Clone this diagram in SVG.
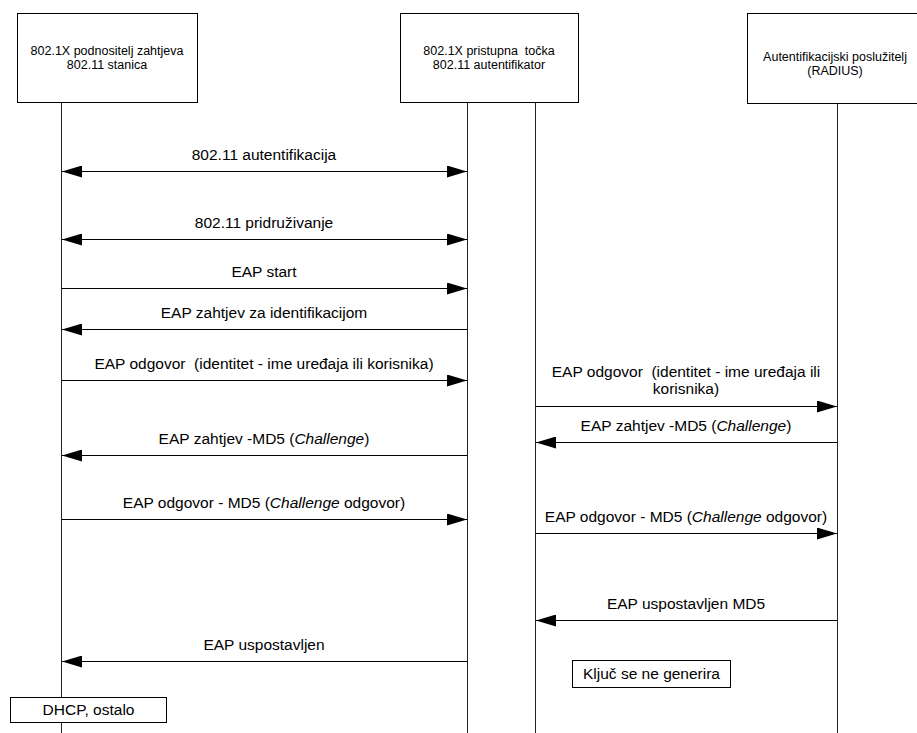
<svg xmlns="http://www.w3.org/2000/svg" width="917" height="733" viewBox="0 0 917 733">
<style>
text{font-family:"Liberation Sans",Arial,sans-serif;fill:#000}
.hdr{font-size:12.5px;text-anchor:middle}
.lbl{font-size:15.5px;text-anchor:middle}
.box{fill:#fff;stroke:#000;stroke-width:1}
.life{stroke:#222;stroke-width:1;fill:none}
.msg{stroke:#000;stroke-width:1;fill:none}
.it{font-style:italic}
</style>
<defs>
<marker id="ah" markerWidth="20" markerHeight="12" refX="20" refY="6" orient="auto-start-reverse" markerUnits="userSpaceOnUse">
<path d="M0,0 L20,6 L0,12 Z" fill="#000"/>
</marker>
</defs>
<rect width="917" height="733" fill="#fff"/>
<g id="lifelines">
<line class="life" x1="61.5" y1="103" x2="61.5" y2="733"/>
<line class="life" x1="467.5" y1="103" x2="467.5" y2="733"/>
<line class="life" x1="535.5" y1="103" x2="535.5" y2="733"/>
<line class="life" x1="837.5" y1="104" x2="837.5" y2="733"/>
</g>
<g id="node-supplicant">
<rect class="box" x="17.5" y="13.5" width="180" height="89"/>
<text class="hdr" x="107" y="55">802.1X podnositelj zahtjeva</text>
<text class="hdr" x="107" y="69">802.11 stanica</text>
</g>
<g id="node-ap">
<rect class="box" x="400.5" y="13.5" width="178" height="89"/>
<text class="hdr" x="489" y="55" xml:space="preserve">802.1X pristupna  točka</text>
<text class="hdr" x="489" y="69">802.11 autentifikator</text>
</g>
<g id="node-radius">
<rect class="box" x="747.5" y="13.5" width="180" height="90"/>
<text class="hdr" x="835" y="61">Autentifikacijski poslužitelj</text>
<text class="hdr" x="835" y="75">(RADIUS)</text>
</g>
<g id="connectors">
<line class="msg" x1="62" y1="171.5" x2="467" y2="171.5" marker-start="url(#ah)" marker-end="url(#ah)"/>
<line class="msg" x1="62" y1="239.5" x2="467" y2="239.5" marker-start="url(#ah)" marker-end="url(#ah)"/>
<line class="msg" x1="62" y1="288.5" x2="467" y2="288.5" marker-end="url(#ah)"/>
<line class="msg" x1="467" y1="329.5" x2="62" y2="329.5" marker-end="url(#ah)"/>
<line class="msg" x1="62" y1="380.5" x2="467" y2="380.5" marker-end="url(#ah)"/>
<line class="msg" x1="536" y1="406.5" x2="837" y2="406.5" marker-end="url(#ah)"/>
<line class="msg" x1="837" y1="442.5" x2="536" y2="442.5" marker-end="url(#ah)"/>
<line class="msg" x1="467" y1="455.5" x2="62" y2="455.5" marker-end="url(#ah)"/>
<line class="msg" x1="62" y1="519.5" x2="467" y2="519.5" marker-end="url(#ah)"/>
<line class="msg" x1="536" y1="533.5" x2="837" y2="533.5" marker-end="url(#ah)"/>
<line class="msg" x1="837" y1="620.5" x2="536" y2="620.5" marker-end="url(#ah)"/>
<line class="msg" x1="467" y1="661.5" x2="62" y2="661.5" marker-end="url(#ah)"/>
</g>
<g id="labels">
<text class="lbl" x="264" y="160">802.11 autentifikacija</text>
<text class="lbl" x="264" y="228">802.11 pridruživanje</text>
<text class="lbl" x="264" y="277">EAP start</text>
<text class="lbl" x="264" y="318">EAP zahtjev za identifikacijom</text>
<text class="lbl" x="264" y="369" xml:space="preserve">EAP odgovor  (identitet - ime uređaja ili korisnika)</text>
<text class="lbl" x="686" y="377" xml:space="preserve">EAP odgovor  (identitet - ime uređaja ili</text>
<text class="lbl" x="686" y="394">korisnika)</text>
<text class="lbl" x="686" y="431">EAP zahtjev -MD5 (<tspan class="it">Challenge</tspan>)</text>
<text class="lbl" x="264" y="444">EAP zahtjev -MD5 (<tspan class="it">Challenge</tspan>)</text>
<text class="lbl" x="264" y="508">EAP odgovor - MD5 (<tspan class="it">Challenge</tspan> odgovor)</text>
<text class="lbl" x="686" y="522">EAP odgovor - MD5 (<tspan class="it">Challenge</tspan> odgovor)</text>
<text class="lbl" x="686" y="609">EAP uspostavljen MD5</text>
<text class="lbl" x="264" y="650">EAP uspostavljen</text>
</g>
<g id="node-kljuc">
<rect class="box" x="572.5" y="660.5" width="158" height="27"/>
<text class="lbl" x="651.5" y="679">Ključ se ne generira</text>
</g>
<g id="node-dhcp">
<rect class="box" x="10.5" y="697.5" width="156" height="25"/>
<text class="lbl" x="88.5" y="715">DHCP, ostalo</text>
</g>
</svg>
